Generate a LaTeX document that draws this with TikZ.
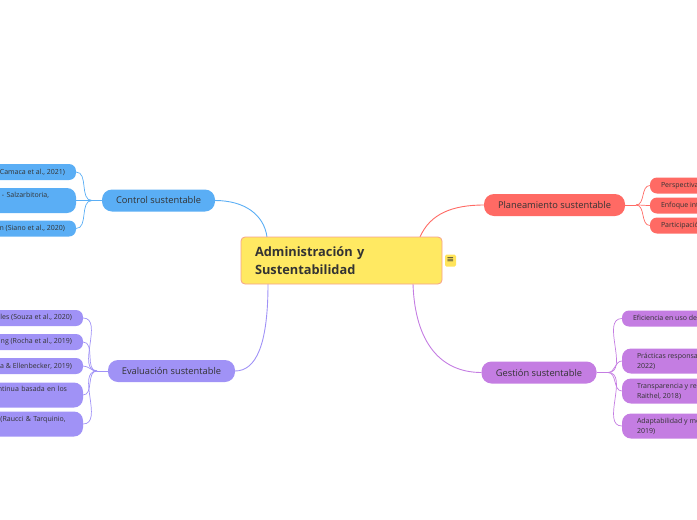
\documentclass[tikz,border=0pt]{standalone}
\usepackage{fontspec}
\setmainfont{Open Sans}
\newfontfamily\symfont{DejaVu Sans}
\usetikzlibrary{calc,backgrounds}
\definecolor{ctrl}{HTML}{5AAEF5}
\definecolor{eval}{HTML}{A092F6}
\definecolor{plan}{HTML}{FF6A64}
\definecolor{gest}{HTML}{C47DE2}
\definecolor{cyel}{HTML}{FFE962}
\definecolor{iyel}{HTML}{FFE45A}
\definecolor{cbord}{HTML}{F5A08C}
\definecolor{txt}{HTML}{333333}
\newcommand\leaffont{\fontsize{7}{9.8}\selectfont}
\newlength\lwa
\newlength\lwb
\newlength\lwc
\begin{document}
\settowidth\lwa{\leaffont Sistemas de gestión ambiental (Landeta - Salzarbitoria,}%
\addtolength\lwa{19pt}%
\settowidth\lwb{\leaffont Retroalimentación y mejora continua basada en los}%
\addtolength\lwb{8pt}%
\settowidth\lwc{\leaffont Informes de sostenibilidad (Raucci \& Tarquinio,}%
\addtolength\lwc{9pt}%
\begin{tikzpicture}[x=1pt,y=-1pt,
  every node/.style={inner sep=0pt, outer sep=0pt},
  central/.style={draw=cbord, fill=cyel, rounded corners=4pt, line width=0.8pt,
    text width=173pt, inner xsep=14pt, minimum height=47pt, text=txt,
    font=\fontsize{12.8}{18}\selectfont\bfseries, align=left},
  parent/.style={rounded corners=10pt, minimum height=22pt, text=txt,
    font=\fontsize{9.3}{11}\selectfont},
  leaf/.style={rounded corners=7pt, minimum height=16pt, inner xsep=11pt, text=txt,
    font=\leaffont},
  leaftwo/.style={leaf, minimum height=25pt, rounded corners=9pt, align=left},
  link/.style={line width=0.9pt},
  branch/.style={line width=0.7pt},
]
\useasboundingbox (0,0) rectangle (697,520);
\clip (0,0) rectangle (697,520);

% central
\node[central] (cen) at (341.5,260.5) {Administración y\\Sustentabilidad};
\node[fill=iyel, minimum width=11pt, minimum height=12pt, rounded corners=1.5pt, text=txt,
  font=\symfont\fontsize{9}{9}\selectfont] (icon) at (450.5,260.5) {≡};

% parents
\node[parent, fill=ctrl, minimum width=113pt] (ctl) at (158.5,200.5) {Control sustentable};
\node[parent, fill=eval, minimum width=127pt] (ev) at (171.5,371) {Evaluación sustentable};
\node[parent, fill=plan, minimum width=141pt] (pl) at (554.5,205) {Planeamiento sustentable};
\node[parent, fill=gest, minimum width=115pt] (ge) at (539,372.5) {Gestión sustentable};

% control leaves
\node[leaf, fill=ctrl, anchor=east] (c1) at (76,172) {Auditorías ambientales (Camaca et al., 2021)};
\node[leaftwo, fill=ctrl, anchor=east, text width=\lwa] (c2) at (76,200.5) {Sistemas de gestión ambiental (Landeta - Salzarbitoria,\\2021)};
\node[leaf, fill=ctrl, anchor=east] (c3) at (76,228.5) {Indicadores de gestión (Siano et al., 2020)};

% evaluation leaves
\node[leaf, fill=eval, anchor=east] (e1) at (83,318) {Evaluación de impactos ambientales (Souza et al., 2020)};
\node[leaf, fill=eval, anchor=east] (e2) at (83,342) {Benchmarking (Rocha et al., 2019)};
\node[leaf, fill=eval, anchor=east] (e3) at (83,366) {Análisis de ciclo de vida (Silva \& Ellenbecker, 2019)};
\node[leaftwo, fill=eval, anchor=east, text width=\lwb] (e4) at (83,395) {Retroalimentación y mejora continua basada en los\\resultados (Zhang, 2020)};
\node[leaftwo, fill=eval, anchor=east, text width=\lwc] (e5) at (83,424) {Informes de sostenibilidad (Raucci \& Tarquinio,\\2020)};

% planning leaves
\node[leaf, fill=plan, anchor=west] (p1) at (650,185.5) {Perspectiva a largo plazo en la organización};
\node[leaf, fill=plan, anchor=west] (p2) at (650,205.5) {Enfoque integral de la organización};
\node[leaf, fill=plan, anchor=west] (p3) at (650,225.5) {Participación de los grupos de interés};

% management leaves
\node[leaf, fill=gest, anchor=west] (g1) at (622,318.5) {Eficiencia en uso de recursos (Garcia et al., 2020)};
\node[leaftwo, fill=gest, anchor=west, inner xsep=15pt] (g2) at (622,361) {Prácticas responsables de negocio (Martínez et al.,\\2022)};
\node[leaftwo, fill=gest, anchor=west, inner xsep=15pt] (g3) at (622,391) {Transparencia y rendición de cuentas (Schreck \&\\Raithel, 2018)};
\node[leaftwo, fill=gest, anchor=west, inner xsep=15pt] (g4) at (622,426) {Adaptabilidad y mejora continua (Lozano et al.,\\2019)};

% junctions
\coordinate (cj) at (92,200.5);
\coordinate (ej) at (97,371);
\coordinate (pj) at (636,205);
\coordinate (gj) at (608,372.5);
\coordinate (cenC) at ($(cen.north west)+(26,0)$);
\coordinate (cenP) at ($(cen.north west)+(179,0)$);
\coordinate (cenE) at ($(cen.south west)+(27,0)$);
\coordinate (cenG) at ($(cen.south west)+(172,0)$);

\begin{scope}[on background layer]
\draw[link, ctrl] (ctl.east) .. controls (245,200.5) and (264,215) .. (cenC);
\draw[link, eval] (cenE) .. controls (268,345) and (256,371) .. (ev.east);
\draw[link, plan] (cenP) .. controls (430,214) and (452,205) .. (pl.west);
\draw[link, gest] (cenG) .. controls (415,342) and (440,372.5) .. (ge.west);

\draw[branch, ctrl] (ctl.west) -- (cj);
\foreach \n in {c1,c2,c3} \draw[branch, ctrl] (\n.east) to[out=0,in=180] (cj);
\draw[branch, eval] (ev.west) -- (ej);
\foreach \n in {e1,e2,e3,e4,e5} \draw[branch, eval] (\n.east) to[out=0,in=180] (ej);
\draw[branch, plan] (pl.east) -- (pj);
\foreach \n in {p1,p2,p3} \draw[branch, plan] (pj) to[out=0,in=180] (\n.west);
\draw[branch, gest] (ge.east) -- (gj);
\foreach \n in {g1,g2,g3,g4} \draw[branch, gest] (gj) to[out=0,in=180] (\n.west);
\end{scope}
\end{tikzpicture}
\end{document}
